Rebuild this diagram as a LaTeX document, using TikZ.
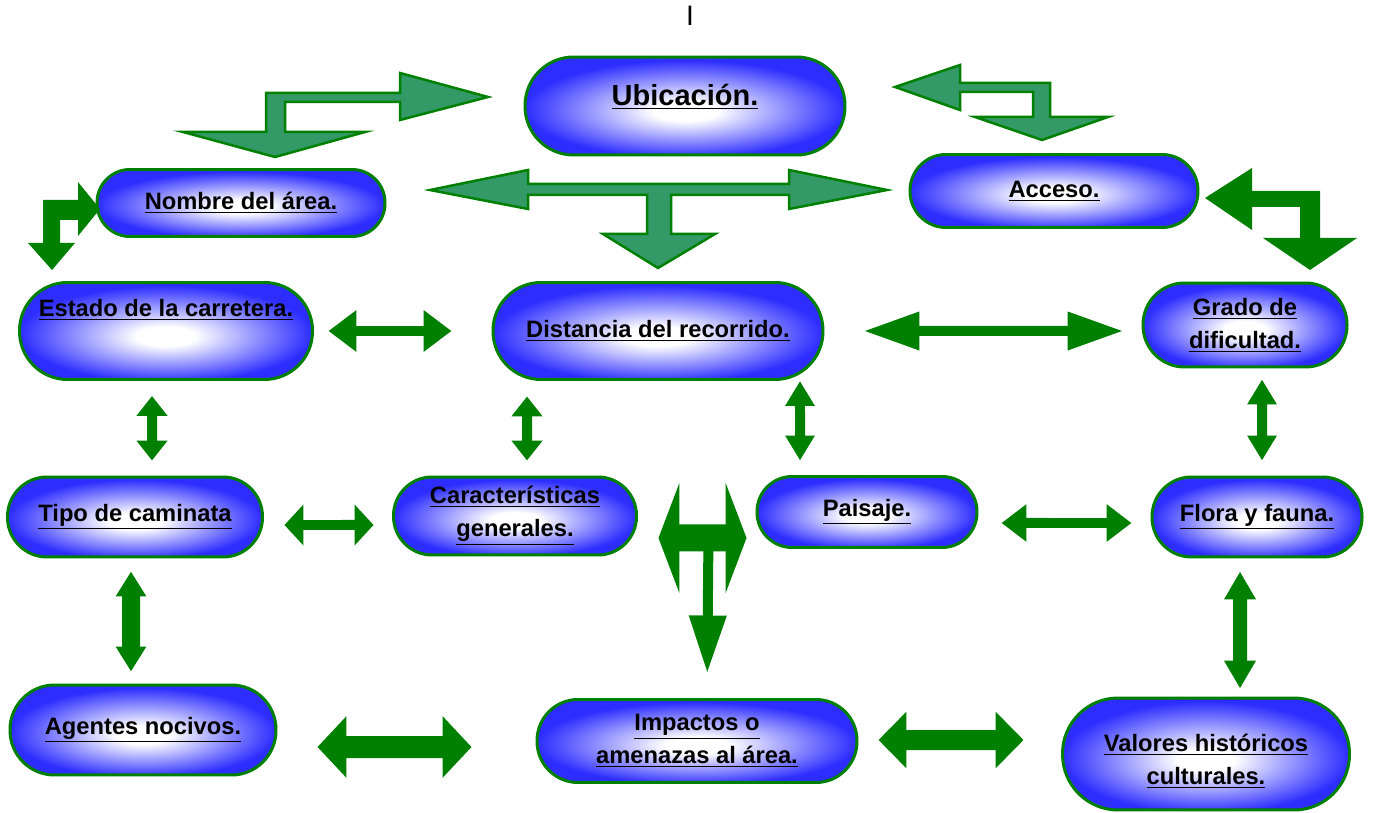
\documentclass[tikz,border=0pt]{standalone}
\usepackage{fontspec}
\setmainfont{Liberation Sans}
\usetikzlibrary{arrows.meta,calc}
\definecolor{pillblue}{RGB}{45,45,255}
\definecolor{edgegreen}{RGB}{0,128,0}
\definecolor{seagreen}{RGB}{51,153,102}
\pgfdeclareradialshading{pillshade}{\pgfpoint{0bp}{-3bp}}{color(0bp)=(white); color(5bp)=(white); color(15bp)=(pillblue!50!white); color(25bp)=(pillblue); color(50bp)=(pillblue)}
\tikzset{
  pill/.style={draw=edgegreen, line width=0.06cm, shade, shading=pillshade, align=center, inner sep=0pt, font=\bfseries\fontsize{13.5}{18.8}\selectfont},
  dbl/.style n args={3}{draw=edgegreen, line width=#1, {Triangle[width=#2,length=#3]}-{Triangle[width=#2,length=#3]}},
  bent/.style={fill=seagreen, draw=edgegreen, line width=0.05cm, line join=miter},
  solidbent/.style={fill=edgegreen},
}
\begin{document}
\begin{tikzpicture}[x=0.02cm, y=-0.02cm]
	\useasboundingbox (0,0) rectangle (1381,813);
	\node[font=\fontsize{16}{18}\selectfont] (marca) at (690,16) {I};

	% cajas
	\node[pill, minimum width=6.4cm, minimum height=1.96cm, rounded corners=0.97cm, font=\bfseries\fontsize{16.5}{20}\selectfont] (ubicacion) at (685,106) {\raisebox{0cm}[0pt][0pt]{\underline{Ubicación.}}};
	\node[pill, minimum width=5.76cm, minimum height=1.34cm, rounded corners=0.66cm] (nombre) at (241,203) {\underline{Nombre del área.}};
	\node[pill, minimum width=5.76cm, minimum height=1.46cm, rounded corners=0.72cm] (acceso) at (1054,191) {\underline{Acceso.}};
	\node[pill, minimum width=5.86cm, minimum height=1.94cm, rounded corners=0.96cm] (estado) at (166,331) {\raisebox{0.29cm}[0pt][0pt]{\underline{Estado de la carretera.}}};
	\node[pill, minimum width=6.6cm, minimum height=1.94cm, rounded corners=0.96cm] (distancia) at (658,331) {\underline{Distancia del recorrido.}};
	\node[pill, minimum width=4.08cm, minimum height=1.68cm, rounded corners=0.83cm] (grado) at (1245,325) {\underline{Grado de}\\\underline{dificultad.}};
	\node[pill, minimum width=5.1cm, minimum height=1.6cm, rounded corners=0.79cm] (tipo) at (135,517) {\underline{Tipo de caminata}};
	\node[pill, minimum width=4.86cm, minimum height=1.56cm, rounded corners=0.77cm] (caract) at (515,516) {\underline{Características}\\\underline{generales.}};
	\node[pill, minimum width=4.4cm, minimum height=1.42cm, rounded corners=0.7cm] (paisaje) at (867,512) {\underline{Paisaje.}};
	\node[pill, minimum width=4.2cm, minimum height=1.6cm, rounded corners=0.79cm] (flora) at (1257,517) {\underline{Flora y fauna.}};
	\node[pill, minimum width=5.32cm, minimum height=1.8cm, rounded corners=0.89cm] (agentes) at (143,730) {\underline{Agentes nocivos.}};
	\node[pill, minimum width=6.4cm, minimum height=1.66cm, rounded corners=0.82cm] (impactos) at (697,741) {\underline{Impactos o}\\\underline{amenazas al área.}};
	\node[pill, minimum width=5.74cm, minimum height=2.24cm, rounded corners=1.11cm] (valores) at (1206,754) {\raisebox{-0.28cm}[0pt][0pt]{\begin{tabular}{@{}c@{}}\underline{Valores históricos}\\\underline{culturales.}\end{tabular}}};

	% flechas de bloque
	\draw[bent] (266,132) -- (266,93) -- (400,93) -- (400,73) -- (488,97) -- (400,120) -- (400,102) -- (285,102) -- (285,132) -- (365,132) -- (275,157) -- (183,132) -- cycle;
	\draw[bent] (895,87) -- (960,65) -- (960,83) -- (1050,83) -- (1050,117) -- (1108,117) -- (1042,140) -- (975,117) -- (1033,117) -- (1033,92) -- (960,92) -- (960,110) -- cycle;
	\draw[bent] (430,190) -- (528,170) -- (528,184) -- (789,184) -- (789,170) -- (887,190) -- (789,209) -- (789,195) -- (671,195) -- (671,234) -- (715,234) -- (658,268) -- (603,234) -- (647,234) -- (647,195) -- (528,195) -- (528,209) -- cycle;
	\fill[solidbent] (100,209) -- (78,236) -- (78,220) -- (60,220) -- (60,243) -- (75,243) -- (52,270) -- (28,243) -- (43,243) -- (43,200) -- (78,200) -- (78,182) -- cycle;
	\fill[solidbent] (1205,198) -- (1252,168) -- (1252,191) -- (1320,191) -- (1320,238) -- (1357,238) -- (1310,270) -- (1263,238) -- (1300,238) -- (1300,207) -- (1252,207) -- (1252,230) -- cycle;

	% flechas dobles
	\draw[dbl={0.2cm}{0.8cm}{0.56cm}, shorten <=0.29cm, shorten >=0.8cm] (estado.east) -- (distancia.west);
	\draw[dbl={0.2cm}{0.72cm}{1.12cm}, shorten <=0.78cm, shorten >=0.36cm] (distancia.east) -- ($(grado.west)+(0,-0.12cm)$);
	\draw[dbl={0.2cm}{0.6cm}{0.4cm}, shorten <=0.3cm, shorten >=0.3cm] ($(estado.south)+(-0.28cm,0)$) -- ($(tipo.north)+(0.34cm,0)$);
	\draw[dbl={0.2cm}{0.6cm}{0.4cm}, shorten <=0.31cm, shorten >=0.3cm] ($(distancia.south)+(-2.62cm,0)$) -- ($(caract.north)+(0.24cm,0)$);
	\draw[dbl={0.2cm}{0.56cm}{0.5cm}, shorten >=0.29cm] ($(distancia.south)+(2.84cm,0)$) -- ($(paisaje.north)+(-1.34cm,0)$);
	\draw[dbl={0.2cm}{0.56cm}{0.5cm}, shorten <=0.22cm, shorten >=0.3cm] ($(grado.south)+(0.34cm,0)$) -- ($(flora.north)+(0.1cm,0)$);
	\draw[dbl={0.2cm}{0.8cm}{0.38cm}, shorten <=0.41cm, shorten >=0.37cm] ($(tipo.east)+(0,-0.16cm)$) -- ($(caract.west)+(0,-0.18cm)$);
	\draw[dbl={0.2cm}{0.72cm}{0.5cm}, shorten <=0.46cm, shorten >=0.38cm] ($(paisaje.east)+(0,-0.22cm)$) -- ($(flora.west)+(0,-0.12cm)$);
	\draw[dbl={0.36cm}{0.58cm}{0.5cm}, shorten <=0.26cm, shorten >=0.24cm] ($(tipo.south)+(-0.08cm,0)$) -- ($(agentes.north)+(-0.24cm,0)$);
	\draw[dbl={0.28cm}{0.6cm}{0.56cm}, shorten <=0.26cm, shorten >=0.16cm] ($(flora.south)+(-0.34cm,0)$) -- ($(valores.north)+(0.68cm,0)$);
	\draw[dbl={0.44cm}{1.2cm}{0.58cm}, shorten <=0.8cm, shorten >=1.28cm] ($(agentes.east)+(0,-0.34cm)$) -- ($(impactos.west)+(0,-0.12cm)$);
	\draw[dbl={0.4cm}{1.1cm}{0.56cm}, shorten <=0.4cm, shorten >=0.75cm] ($(impactos.east)+(0,0.02cm)$) -- ($(valores.west)+(0,0.28cm)$);

	% flecha en T hacia impactos
	\draw[dbl={0.54cm}{2.2cm}{0.42cm}, shorten <=0.41cm, shorten >=0.18cm] ($(caract.east)+(0,-0.44cm)$) -- ($(paisaje.west)+(0,-0.52cm)$);
	\draw[draw=edgegreen, line width=0.2cm, -{Triangle[width=0.7cm,length=1.16cm]}, shorten >=0.49cm] ($(caract.east)+(1.41cm,-0.44cm)$) -- ($(impactos.north)+(0.2cm,0)$);
\end{tikzpicture}
\end{document}
